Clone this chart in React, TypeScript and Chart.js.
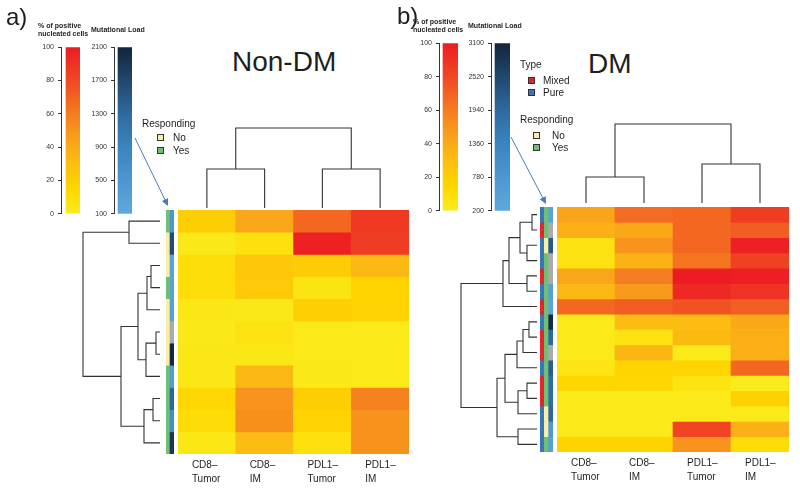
import React, { useEffect, useRef } from 'react';
import { Chart, registerables } from 'chart.js';

Chart.register(...registerables);

const FONT = '"Liberation Sans", Arial, Helvetica, sans-serif';

// ---------------- data ----------------
const COLUMN_LABELS = [['CD8–', 'Tumor'], ['CD8–', 'IM'], ['PDL1–', 'Tumor'], ['PDL1–', 'IM']];
const PCT_TICKS = [0, 20, 40, 60, 80, 100];

// Non-DM (rows top to bottom)
const NONDM_CD8_TUMOR = [20, 3, 10, 10, 4, 3, 4, 4, 14, 11, 4];
const NONDM_CD8_IM = [42, 8, 24, 23, 3, 7, 4, 33, 50, 52, 31];
const NONDM_PDL1_TUMOR = [68, 98, 21, 6, 19, 2, 2, 3, 20, 17, 8];
const NONDM_PDL1_IM = [87, 85, 33, 16, 17, 2, 2, 2, 58, 51, 51];
const NONDM_RESPONDING = ['Yes', 'No', 'No', 'Yes', 'No', 'No', 'No', 'Yes', 'Yes', 'Yes', 'Yes'];
const NONDM_LOAD: (number | null)[] = [500, 1650, 250, 250, 300, null, 2050, 400, 1350, 700, 1900];
const NONDM_LOAD_TICKS = [100, 500, 900, 1300, 1700, 2100];
const NONDM_ROW_MERGE = [[-6, -7], [-9, -10], [-3, -4], [3, -5], [1, -8], [2, -11], [4, 5], [-1, -2], [7, 6], [8, 9]];
const NONDM_ROW_HEIGHT = [4, 7, 9, 13, 14, 16, 22, 31, 39, 77];
const NONDM_COL_MERGE = [[-1, -2], [-3, -4], [1, 2]];
const NONDM_COL_HEIGHT = [39, 39, 80];

// DM (rows top to bottom)
const DM_CD8_TUMOR = [43, 37, 7, 7, 42, 33, 68, 2, 2, 2, 5, 15, 2, 2, 2, 16];
const DM_CD8_IM = [66, 41, 50, 36, 60, 47, 72, 31, 7, 34, 16, 15, 2, 2, 2, 16];
const DM_PDL1_TUMOR = [68, 68, 68, 63, 100, 94, 76, 31, 32, 2, 16, 6, 2, 2, 82, 50];
const DM_PDL1_IM = [85, 72, 98, 83, 99, 90, 71, 41, 38, 38, 68, 1, 18, 2, 37, 11];
const DM_TYPE = ['Pure', 'Mixed', 'Pure', 'Pure', 'Mixed', 'Pure', 'Mixed', 'Pure', 'Mixed', 'Mixed', 'Pure', 'Mixed', 'Mixed', 'Pure', 'Pure', 'Pure'];
const DM_RESPONDING = ['Yes', 'Yes', 'No', 'Yes', 'Yes', 'Yes', 'Yes', 'Yes', 'Yes', 'Yes', 'Yes', 'Yes', 'Yes', 'No', 'No', 'Yes'];
const DM_LOAD: (number | null)[] = [400, null, 2250, null, null, 500, 300, 3000, 1950, null, 2150, 1900, 1900, 2000, 700, 500];
const DM_LOAD_TICKS = [200, 780, 1360, 1940, 2520, 3100];
const DM_ROW_MERGE = [[-1, -2], [-3, -4], [1, 2], [-5, -6], [3, 4], [5, -7], [-8, -9], [7, -10], [8, -11], [-12, -13], [10, -14], [9, 11], [-15, -16], [12, 13], [6, 14]];
const DM_ROW_HEIGHT = [5, 10, 17, 10, 28, 34, 8, 14, 20, 10, 19, 32, 19, 40, 76];
const DM_COL_MERGE = [[-1, -2], [-3, -4], [1, 2]];
const DM_COL_HEIGHT = [26, 39, 79];

// ---------------- colours ----------------
type Stops = [number, number[]][];
const HEAT_STOPS: Stops = [
  [0, [250, 236, 30]], [15, [255, 214, 0]], [30, [253, 190, 16]], [45, [249, 160, 27]],
  [60, [245, 124, 32]], [80, [240, 72, 35]], [100, [237, 28, 36]],
];
const LOAD_STOPS: Stops = [
  [0, [93, 169, 223]], [40, [58, 133, 192]], [60, [46, 106, 160]], [80, [34, 71, 110]], [100, [18, 37, 58]],
];
const NA_COLOR = '#ABABAB';
const RESP_COLORS: Record<string, string> = { No: '#F8EEA6', Yes: '#71BE75' };
const TYPE_COLORS: Record<string, string> = { Mixed: '#E1262B', Pure: '#3776B7' };
const INK = '#1e1e1e';
const LINE = '#333333';
const ARROW = '#4A7EBB';

function interp(stops: Stops, v: number): number[] {
  if (v <= stops[0][0]) return stops[0][1];
  for (let i = 1; i < stops.length; i++) {
    const [x0, c0] = stops[i - 1];
    const [x1, c1] = stops[i];
    if (v <= x1) {
      const t = (v - x0) / (x1 - x0);
      return c0.map((c, k) => c + (c1[k] - c) * t);
    }
  }
  return stops[stops.length - 1][1];
}
const rgb = (c: number[]) => `rgb(${c.map((x) => Math.round(x)).join(',')})`;
const heatColor = (v: number) => rgb(interp(HEAT_STOPS, v));
const loadColor = (v: number | null, ticks: number[]) => {
  if (v == null) return NA_COLOR;
  const lo = ticks[0];
  const hi = ticks[ticks.length - 1];
  return rgb(interp(LOAD_STOPS, ((v - lo) / (hi - lo)) * 100));
};

// ---------------- geometry (layout only) ----------------
const NONDM_GEOM = {
  heat: { x0: 178, y0: 210, x1: 409, y1: 454 },
  annot: { x0: 166, x1: 174 },
  rowDendro: { x0: 83, x1: 160 },
  colDendro: { y0: 128, y1: 208 },
  cbPct: { axis: 61, bar0: 66, bar1: 80, y0: 45, y1: 216 },
  cbLoad: { axis: 114, bar0: 118, bar1: 132, y0: 45, y1: 216 },
};
const DM_GEOM = {
  heat: { x0: 557, y0: 207, x1: 789, y1: 452 },
  annot: { x0: 540, x1: 553 },
  rowDendro: { x0: 461, x1: 537 },
  colDendro: { y0: 124, y1: 203 },
  cbPct: { axis: 439, bar0: 443, bar1: 458, y0: 41, y1: 213 },
  cbLoad: { axis: 491, bar0: 495, bar1: 510, y0: 41, y1: 213 },
};
const LABEL_BAND = 40;
const AXIS_W = 26;

// ---------------- chart configs ----------------
const BASE = {
  responsive: false,
  maintainAspectRatio: false,
  animation: false,
  events: [],
  plugins: { legend: { display: false }, tooltip: { enabled: false }, title: { display: false } },
};

function heatmapConfig(cols: number[][], pad: any) {
  const nRows = cols[0].length;
  const datasets = Array.from({ length: nRows }, (_, r) => ({
    data: cols.map(() => [r, r + 1]),
    backgroundColor: cols.map((c) => heatColor(c[r])),
    borderWidth: 0,
    grouped: false,
    barPercentage: 1,
    categoryPercentage: 1,
  }));
  return {
    type: 'bar',
    data: { labels: COLUMN_LABELS, datasets },
    options: {
      ...BASE,
      layout: { padding: pad },
      scales: {
        x: {
          grid: { display: false, drawTicks: false },
          border: { display: false },
          ticks: {
            align: 'start',
            labelOffset: -15,
            padding: 4,
            maxRotation: 0,
            autoSkip: false,
            color: INK,
            font: { size: 10, family: FONT, lineHeight: 1.4 },
          },
          afterFit: (s: any) => { s.height = LABEL_BAND; },
        },
        y: { display: false, min: 0, max: nRows, reverse: true },
      },
    },
  };
}

function annotConfig(colorCols: string[][]) {
  const nRows = colorCols[0].length;
  const datasets = Array.from({ length: nRows }, (_, r) => ({
    data: colorCols.map(() => [r, r + 1]),
    backgroundColor: colorCols.map((c) => c[r]),
    borderWidth: 0,
    grouped: false,
    barPercentage: 1,
    categoryPercentage: 1,
  }));
  return {
    type: 'bar',
    data: { labels: colorCols.map((_, i) => String(i)), datasets },
    options: {
      ...BASE,
      layout: { padding: 0 },
      scales: {
        x: { display: false },
        y: { display: false, min: 0, max: nRows, reverse: true },
      },
    },
  };
}

type Seg = { p: number; h: number } | null;
function dendroPath(merge: number[][], height: number[]): Seg[] {
  const pos: number[] = [];
  const out: Seg[] = [];
  merge.forEach(([a, b], i) => {
    const pa = a < 0 ? -a - 0.5 : pos[a - 1];
    const ha = a < 0 ? 0 : height[a - 1];
    const pb = b < 0 ? -b - 0.5 : pos[b - 1];
    const hb = b < 0 ? 0 : height[b - 1];
    const H = height[i];
    out.push({ p: pa, h: ha }, { p: pa, h: H }, { p: pb, h: H }, { p: pb, h: hb }, null);
    pos[i] = (pa + pb) / 2;
  });
  return out;
}

function dendroConfig(merge: number[][], height: number[], nLeaves: number, orient: 'row' | 'col', pad: number) {
  const segs = dendroPath(merge, height);
  const data = segs.map((s) =>
    s ? (orient === 'row' ? { x: s.h, y: s.p } : { x: s.p, y: s.h }) : { x: null, y: null }
  );
  const hmax = Math.max(...height);
  const leafScale = { type: 'linear', display: false, min: 0, max: nLeaves };
  const hScale = { type: 'linear', display: false, min: 0, max: hmax };
  return {
    type: 'scatter',
    data: {
      datasets: [{
        data,
        showLine: true,
        spanGaps: false,
        borderColor: LINE,
        borderWidth: 1.1,
        pointRadius: 0,
        clip: false,
      }],
    },
    options: {
      ...BASE,
      layout: { padding: pad },
      scales: orient === 'row'
        ? { x: { ...hScale, reverse: true }, y: { ...leafScale, reverse: true } }
        : { x: leafScale, y: hScale },
    },
  };
}

function colorbarConfig(g: any, ticks: number[], stops: Stops) {
  const min = ticks[0];
  const max = ticks[ticks.length - 1];
  const areaW = g.bar1 - g.axis;
  const center = ((g.bar0 + g.bar1) / 2 - g.axis) / areaW;
  return {
    type: 'bar',
    data: {
      datasets: [{
        data: [{ x: center, y: [min, max] }],
        barThickness: g.bar1 - g.bar0,
        borderWidth: 0,
        backgroundColor: (ctx: any) => {
          const chart = ctx.chart;
          const ys = chart.scales && chart.scales.y;
          if (!chart.chartArea || !ys) return rgb(stops[0][1]);
          const grad = chart.ctx.createLinearGradient(0, ys.getPixelForValue(min), 0, ys.getPixelForValue(max));
          stops.forEach(([t, c]) => grad.addColorStop(t / 100, rgb(c)));
          return grad;
        },
      }],
    },
    options: {
      ...BASE,
      layout: { padding: { top: 6, bottom: 6, left: 0, right: 1 } },
      scales: {
        x: { type: 'linear', display: false, min: 0, max: 1, offset: false },
        y: {
          type: 'linear',
          position: 'left',
          min,
          max,
          afterBuildTicks: (s: any) => { s.ticks = ticks.map((v) => ({ value: v })); },
          afterFit: (s: any) => { s.width = AXIS_W; },
          ticks: {
            padding: 4,
            color: '#333',
            font: { size: 7, family: FONT },
            callback: (v: any) => String(v),
          },
          grid: { display: true, drawOnChartArea: false, drawTicks: true, tickLength: 3, color: '#333', lineWidth: 1 },
          border: { display: true, color: '#333', width: 1 },
        },
      },
    },
  };
}

// ---------------- components ----------------
type Box = { left: number; top: number; width: number; height: number };

function ChartCanvas({ box, make }: { box: Box; make: () => any }) {
  const ref = useRef<HTMLCanvasElement>(null);
  useEffect(() => {
    const chart = new Chart(ref.current as HTMLCanvasElement, make());
    return () => chart.destroy();
  }, []);
  return (
    <canvas
      ref={ref}
      width={box.width}
      height={box.height}
      style={{ position: 'absolute', left: box.left, top: box.top, width: box.width, height: box.height }}
    />
  );
}

function Txt({ x, base, size, bold, children, color }: { x: number; base: number; size: number; bold?: boolean; children: any; color?: string }) {
  return (
    <div
      style={{
        position: 'absolute',
        left: x,
        top: base - 0.8465 * size,
        fontSize: size,
        lineHeight: `${size}px`,
        fontWeight: bold ? 700 : 400,
        fontFamily: FONT,
        color: color || INK,
        whiteSpace: 'nowrap',
      }}
    >
      {children}
    </div>
  );
}

function Swatch({ x, cy, color }: { x: number; cy: number; color: string }) {
  return (
    <div
      style={{
        position: 'absolute',
        left: x,
        top: cy - 3.5,
        width: 7,
        height: 7,
        boxSizing: 'border-box',
        border: '1px solid #333',
        background: color,
      }}
    />
  );
}

function Panel({ g, cols, annots, rowMerge, rowHeight, colMerge, colHeight, loadTicks }: any) {
  const nRows = cols[0].length;
  const h = g.heat;
  const heatPad = { left: 4, right: 12, top: 0, bottom: 2 };
  const dp = 3;
  const cbBox = (c: any): Box => ({
    left: c.axis - AXIS_W,
    top: c.y0 - 6,
    width: AXIS_W + (c.bar1 - c.axis) + 1,
    height: c.y1 - c.y0 + 12,
  });
  return (
    <>
      <ChartCanvas
        box={{ left: h.x0 - heatPad.left, top: h.y0 - heatPad.top, width: h.x1 - h.x0 + heatPad.left + heatPad.right, height: h.y1 - h.y0 + LABEL_BAND + heatPad.top + heatPad.bottom }}
        make={() => heatmapConfig(cols, heatPad)}
      />
      <ChartCanvas
        box={{ left: g.annot.x0, top: h.y0, width: g.annot.x1 - g.annot.x0, height: h.y1 - h.y0 }}
        make={() => annotConfig(annots)}
      />
      <ChartCanvas
        box={{ left: g.rowDendro.x0 - dp, top: h.y0 - dp, width: g.rowDendro.x1 - g.rowDendro.x0 + 2 * dp, height: h.y1 - h.y0 + 2 * dp }}
        make={() => dendroConfig(rowMerge, rowHeight, nRows, 'row', dp)}
      />
      <ChartCanvas
        box={{ left: h.x0 - dp, top: g.colDendro.y0 - dp, width: h.x1 - h.x0 + 2 * dp, height: g.colDendro.y1 - g.colDendro.y0 + 2 * dp }}
        make={() => dendroConfig(colMerge, colHeight, cols.length, 'col', dp)}
      />
      <ChartCanvas box={cbBox(g.cbPct)} make={() => colorbarConfig(g.cbPct, PCT_TICKS, HEAT_STOPS)} />
      <ChartCanvas box={cbBox(g.cbLoad)} make={() => colorbarConfig(g.cbLoad, loadTicks, LOAD_STOPS)} />
    </>
  );
}

export default function App() {
  const nondmAnnots = [
    NONDM_RESPONDING.map((v) => RESP_COLORS[v]),
    NONDM_LOAD.map((v) => loadColor(v, NONDM_LOAD_TICKS)),
  ];
  const dmAnnots = [
    DM_TYPE.map((v) => TYPE_COLORS[v]),
    DM_RESPONDING.map((v) => RESP_COLORS[v]),
    DM_LOAD.map((v) => loadColor(v, DM_LOAD_TICKS)),
  ];
  return (
    <div style={{ position: 'fixed', left: 0, top: 0, width: 800, height: 493, background: '#fff', overflow: 'hidden', fontFamily: FONT }}>
      <Panel
        g={NONDM_GEOM}
        cols={[NONDM_CD8_TUMOR, NONDM_CD8_IM, NONDM_PDL1_TUMOR, NONDM_PDL1_IM]}
        annots={nondmAnnots}
        rowMerge={NONDM_ROW_MERGE}
        rowHeight={NONDM_ROW_HEIGHT}
        colMerge={NONDM_COL_MERGE}
        colHeight={NONDM_COL_HEIGHT}
        loadTicks={NONDM_LOAD_TICKS}
      />
      <Panel
        g={DM_GEOM}
        cols={[DM_CD8_TUMOR, DM_CD8_IM, DM_PDL1_TUMOR, DM_PDL1_IM]}
        annots={dmAnnots}
        rowMerge={DM_ROW_MERGE}
        rowHeight={DM_ROW_HEIGHT}
        colMerge={DM_COL_MERGE}
        colHeight={DM_COL_HEIGHT}
        loadTicks={DM_LOAD_TICKS}
      />

      {/* panel letters and titles */}
      <Txt x={6} base={25} size={24}>a)</Txt>
      <Txt x={397} base={24} size={24}>b)</Txt>
      <Txt x={232} base={72} size={28}>Non-DM</Txt>
      <Txt x={588} base={74} size={28}>DM</Txt>

      {/* colour-key titles */}
      <Txt x={38} base={28.2} size={7} bold>% of positive</Txt>
      <Txt x={38} base={35.8} size={7} bold>nucleated cells</Txt>
      <Txt x={91} base={31.8} size={7} bold>Mutational Load</Txt>
      <Txt x={413} base={24.2} size={7} bold>% of positive</Txt>
      <Txt x={413} base={31.8} size={7} bold>nucleated cells</Txt>
      <Txt x={468} base={27.5} size={7} bold>Mutational Load</Txt>

      {/* legends */}
      <Txt x={142} base={127} size={10}>Responding</Txt>
      <Swatch x={157} cy={137.3} color={RESP_COLORS.No} />
      <Txt x={173} base={141} size={10}>No</Txt>
      <Swatch x={157} cy={150.7} color={RESP_COLORS.Yes} />
      <Txt x={173} base={154.4} size={10}>Yes</Txt>

      <Txt x={520} base={68.6} size={10}>Type</Txt>
      <Swatch x={528} cy={80.7} color={TYPE_COLORS.Mixed} />
      <Txt x={543} base={84.3} size={10}>Mixed</Txt>
      <Swatch x={528} cy={92.3} color={TYPE_COLORS.Pure} />
      <Txt x={543} base={96} size={10}>Pure</Txt>
      <Txt x={520} base={123.6} size={10}>Responding</Txt>
      <Swatch x={533} cy={135.7} color={RESP_COLORS.No} />
      <Txt x={552} base={139.3} size={10}>No</Txt>
      <Swatch x={533} cy={147.3} color={RESP_COLORS.Yes} />
      <Txt x={552} base={151} size={10}>Yes</Txt>

      <svg width={800} height={493} style={{ position: 'absolute', left: 0, top: 0, pointerEvents: 'none' }}>
        <defs>
          <marker id="ah" markerWidth="7" markerHeight="7" refX="6" refY="3.5" orient="auto" markerUnits="userSpaceOnUse">
            <path d="M0,0 L7,3.5 L0,7 z" fill={ARROW} />
          </marker>
        </defs>
        <line x1={135} y1={138} x2={167.5} y2={205} stroke={ARROW} strokeWidth={1} markerEnd="url(#ah)" />
        <line x1={511} y1={137} x2={545.5} y2={203} stroke={ARROW} strokeWidth={1} markerEnd="url(#ah)" />
      </svg>
    </div>
  );
}
